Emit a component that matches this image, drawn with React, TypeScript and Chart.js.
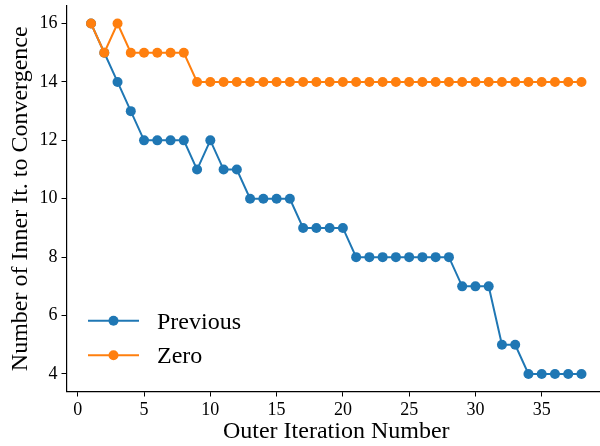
import React, { useEffect, useRef } from "react";
import { Chart, registerables } from "chart.js";

Chart.register(...registerables);

const iterations = [
  1, 2, 3, 4, 5, 6, 7, 8, 9, 10, 11, 12, 13, 14, 15, 16, 17, 18, 19,
  20, 21, 22, 23, 24, 25, 26, 27, 28, 29, 30, 31, 32, 33, 34, 35, 36, 37, 38,
];
const previousValues = [
  16, 15, 14, 13, 12, 12, 12, 12, 11, 12, 11, 11, 10, 10, 10, 10, 9, 9, 9,
  9, 8, 8, 8, 8, 8, 8, 8, 8, 7, 7, 7, 5, 5, 4, 4, 4, 4, 4,
];
const zeroValues = [
  16, 15, 16, 15, 15, 15, 15, 15, 14, 14, 14, 14, 14, 14, 14, 14, 14, 14, 14,
  14, 14, 14, 14, 14, 14, 14, 14, 14, 14, 14, 14, 14, 14, 14, 14, 14, 14, 14,
];
const seriesLabels = ["Previous", "Zero"];
const xTicks = [0, 5, 10, 15, 20, 25, 30, 35];
const yTicks = [4, 6, 8, 10, 12, 14, 16];
const xTitle = "Outer Iteration Number";
const yTitle = "Number of Inner It. to Convergence";

const BLUE = "#1f77b4";
const ORANGE = "#ff7f0e";
const FONT = '"Liberation Serif", "DejaVu Serif", serif';

const legendPlugin = {
  id: "insideLegend",
  afterDraw(chart: any) {
    const ctx = chart.ctx;
    const rows = [0, 1];
    const lineY = [320.7, 355.2];
    const baseY = [328.5, 363.3];
    ctx.save();
    rows.forEach((i, k) => {
      const ds = chart.data.datasets[i];
      ctx.strokeStyle = ds.borderColor;
      ctx.lineWidth = 2;
      ctx.beginPath();
      ctx.moveTo(88, lineY[k]);
      ctx.lineTo(139, lineY[k]);
      ctx.stroke();
      ctx.fillStyle = ds.backgroundColor;
      ctx.beginPath();
      ctx.arc(113.5, lineY[k], 5, 0, Math.PI * 2);
      ctx.fill();
      ctx.fillStyle = "#000";
      ctx.font = `24px ${FONT}`;
      ctx.textAlign = "left";
      ctx.textBaseline = "alphabetic";
      ctx.fillText(ds.label, 157, baseY[k]);
    });
    ctx.restore();
  },
};

export default function App() {
  const ref = useRef<HTMLCanvasElement | null>(null);
  useEffect(() => {
    if (!ref.current) return;
    Chart.defaults.font.family = FONT;
    Chart.defaults.color = "#000";
    const chart = new Chart(ref.current, {
      type: "line",
      data: {
        datasets: [
          {
            label: seriesLabels[0],
            data: iterations.map((x, i) => ({ x, y: previousValues[i] })),
            borderColor: BLUE,
            backgroundColor: BLUE,
            borderWidth: 2,
            pointRadius: 5,
            pointBorderWidth: 0,
            pointHoverRadius: 5,
            order: 1,
          },
          {
            label: seriesLabels[1],
            data: iterations.map((x, i) => ({ x, y: zeroValues[i] })),
            borderColor: ORANGE,
            backgroundColor: ORANGE,
            borderWidth: 2,
            pointRadius: 5,
            pointBorderWidth: 0,
            pointHoverRadius: 5,
            order: 0,
          },
        ],
      },
      options: {
        responsive: false,
        animation: false,
        events: [],
        layout: {
          autoPadding: false,
          padding: { top: 6, left: 0, right: 0, bottom: 0 },
        },
        plugins: {
          legend: { display: false },
          tooltip: { enabled: false },
        },
        scales: {
          x: {
            type: "linear",
            min: -0.85,
            max: 39.85,
            afterBuildTicks: (s: any) => {
              s.ticks = xTicks.map((v) => ({ value: v }));
            },
            afterFit: (s: any) => {
              s.height = 54.5;
              s.paddingLeft = 0;
              s.paddingRight = 0;
            },
            grid: {
              drawOnChartArea: false,
              drawTicks: true,
              tickLength: 5,
              tickColor: "#000",
              tickWidth: 1,
            },
            border: { display: true, color: "#000", width: 1.2 },
            ticks: { font: { size: 18 }, color: "#000", padding: 3, maxRotation: 0 },
            title: {
              display: true,
              text: xTitle,
              font: { size: 24 },
              color: "#000",
              padding: { top: 0, bottom: 0 },
            },
          },
          y: {
            type: "linear",
            min: 3.4,
            max: 16.6,
            afterBuildTicks: (s: any) => {
              s.ticks = yTicks.map((v) => ({ value: v }));
            },
            afterFit: (s: any) => {
              s.width = 66.5;
              s.paddingTop = 0;
              s.paddingBottom = 0;
            },
            grid: {
              drawOnChartArea: false,
              drawTicks: true,
              tickLength: 5,
              tickColor: "#000",
              tickWidth: 1,
            },
            border: { display: true, color: "#000", width: 1.2 },
            ticks: { font: { size: 18 }, color: "#000", padding: 4 },
            title: {
              display: true,
              text: yTitle,
              font: { size: 24 },
              color: "#000",
              padding: { top: 6.5, bottom: 0 },
            },
          },
        },
      },
      plugins: [legendPlugin],
    } as any);
    return () => chart.destroy();
  }, []);
  return (
    <div
      style={{
        position: "fixed",
        left: 0,
        top: 0,
        width: 600,
        height: 446,
        overflow: "hidden",
        background: "#fff",
      }}
    >
      <canvas
        ref={ref}
        width={606}
        height={446}
        style={{ display: "block", width: 606, height: 446 }}
      />
    </div>
  );
}
